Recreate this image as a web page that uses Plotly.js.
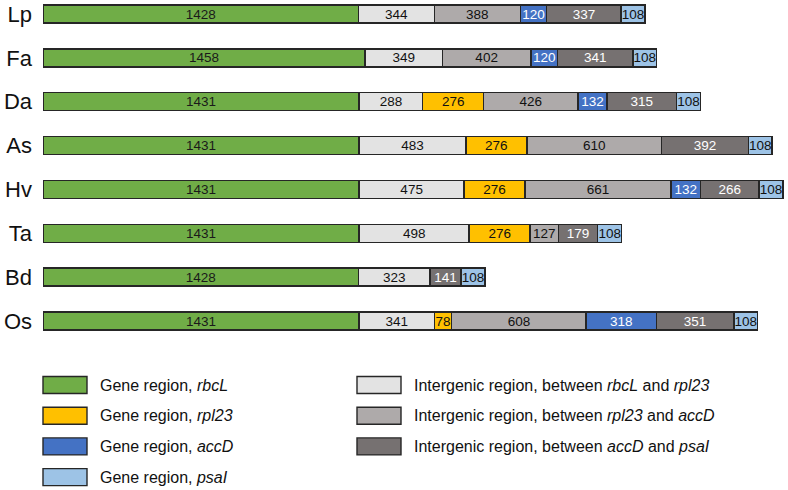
<!DOCTYPE html>
<html>
<head>
<meta charset="utf-8">
<script src="https://cdn.plot.ly/plotly-3.0.1.min.js"></script>
<style>html,body{margin:0;padding:0;background:#fff;}#chart{width:788px;height:490px;}</style>
</head>
<body>
<div id="chart"></div>
<script>
// Species (rows, top to bottom)
const species = ["Lp", "Fa", "Da", "As", "Hv", "Ta", "Bd", "Os"];

// Segment lengths (bp) per species; null = segment absent
const rbcL      = [1428, 1458, 1431, 1431, 1431, 1431, 1428, 1431];
const igRbcLRpl = [344, 349, 288, 483, 475, 498, 323, 341];
const rpl23     = [null, null, 276, 276, 276, 276, null, 78];
const igRplAcc  = [388, 402, 426, 610, 661, 127, null, 608];
const accD      = [120, 120, 132, null, 132, null, null, 318];
const igAccPsa  = [337, 341, 315, 392, 266, 179, 141, 351];
const psaI      = [108, 108, 108, 108, 108, 108, 108, 108];

const segNames = [
  "Gene region, <i>rbcL</i>",
  "Intergenic region, between <i>rbcL</i> and <i>rpl23</i>",
  "Gene region, <i>rpl23</i>",
  "Intergenic region, between <i>rpl23</i> and <i>accD</i>",
  "Gene region, <i>accD</i>",
  "Intergenic region, between <i>accD</i> and <i>psaI</i>",
  "Gene region, <i>psaI</i>"
];
const segValues = [rbcL, igRbcLRpl, rpl23, igRplAcc, accD, igAccPsa, psaI];
const segColors = ["#70AD47", "#E3E3E3", "#FFC000", "#AEAAAA", "#4472C4", "#767171", "#9DC3E6"];
const segTextColors = ["#1a1a1a", "#111", "#111", "#111", "#fff", "#fff", "#111"];

const rowIdx = species.map((s, i) => i);
const FONT = "Arial, 'Liberation Sans', Helvetica, sans-serif";

const traces = segValues.map((vals, k) => ({
  type: "bar",
  orientation: "h",
  name: segNames[k],
  y: rowIdx,
  x: vals,
  width: 0.41,
  text: vals.map(v => v === null ? "" : String(v)),
  texttemplate: "%{text}",
  textposition: "inside",
  insidetextanchor: "middle",
  textangle: 0,
  constraintext: "none",
  cliponaxis: false,
  textfont: {family: FONT, size: 13.5, color: segTextColors[k]},
  marker: {color: segColors[k], line: {color: "#262626", width: 1.4}},
  hoverinfo: "skip",
  showlegend: false
}));

const W = 788, H = 490;
const ML = 43, PW = W - ML;

// Custom two-column legend (paper coordinates)
const legendLeft = [0, 2, 4, 6];
const legendRight = [1, 3, 5];
const shapes = [];
const annotations = [];
function px2paperX(px) { return (px - ML) / PW; }
function px2paperY(py) { return 1 - py / H; }
function addItem(segIndex, col, row) {
  const x0 = col === 0 ? 43 : 357;
  const yc = 385 + row * 30.7;
  shapes.push({
    type: "rect", xref: "paper", yref: "paper",
    x0: px2paperX(x0), x1: px2paperX(x0 + 44),
    y0: px2paperY(yc - 8.5), y1: px2paperY(yc + 8.5),
    fillcolor: segColors[segIndex],
    line: {color: "#262626", width: 1.4}
  });
  annotations.push({
    xref: "paper", yref: "paper",
    x: px2paperX(x0 + 55), y: px2paperY(yc),
    xanchor: "left", yanchor: "middle",
    text: segNames[segIndex], showarrow: false,
    font: {family: FONT, size: 16, color: "#111"}
  });
}
legendLeft.forEach((s, r) => addItem(s, 0, r));
legendRight.forEach((s, r) => addItem(s, 1, r));

const pxPerRow = 43.86;
const yMin = -14 / pxPerRow;
const yMax = yMin + H / pxPerRow;

const layout = {
  width: W, height: H,
  margin: {l: ML, r: 0, t: 0, b: 0, pad: 0},
  paper_bgcolor: "#fff", plot_bgcolor: "#fff",
  barmode: "stack",
  showlegend: false,
  font: {family: FONT},
  xaxis: {range: [0, 3372], visible: false, showgrid: false, zeroline: false, fixedrange: true},
  yaxis: {
    range: [yMax, yMin], tickvals: rowIdx, ticktext: species,
    showgrid: false, zeroline: false, showline: false, ticks: "",
    ticklabelstandoff: 10, automargin: false,
    tickfont: {family: FONT, size: 22, color: "#111"}
  },
  shapes: shapes,
  annotations: annotations
};

Plotly.newPlot("chart", traces, layout, {staticPlot: true, displayModeBar: false});
</script>
</body>
</html>
